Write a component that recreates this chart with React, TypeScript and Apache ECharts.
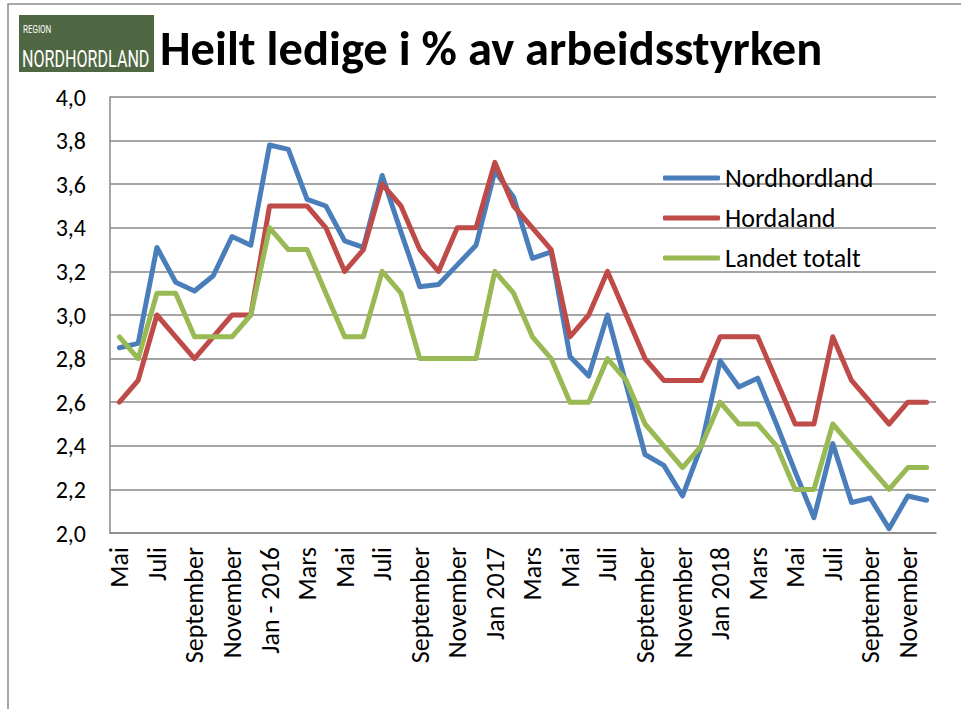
import React, { useEffect, useRef } from "react";
import * as echarts from "echarts";

const months = [
  "Mai", "Juni", "Juli", "August", "September", "Oktober", "November", "Desember",
  "Jan - 2016", "Februar", "Mars", "April", "Mai", "Juni", "Juli", "August", "September", "Oktober", "November", "Desember",
  "Jan 2017", "Februar", "Mars", "April", "Mai", "Juni", "Juli", "August", "September", "Oktober", "November", "Desember",
  "Jan 2018", "Februar", "Mars", "April", "Mai", "Juni", "Juli", "August", "September", "Oktober", "November", "Desember",
];

const nordhordland = [
  2.85, 2.87, 3.31, 3.15, 3.11, 3.18, 3.36, 3.32, 3.78, 3.76,
  3.53, 3.5, 3.34, 3.31, 3.64, 3.38, 3.13, 3.14, 3.23, 3.32,
  3.66, 3.54, 3.26, 3.29, 2.81, 2.72, 3.0, 2.68, 2.36, 2.31,
  2.17, 2.4, 2.79, 2.67, 2.71, 2.5, 2.28, 2.07, 2.41, 2.14,
  2.16, 2.02, 2.17, 2.15,
];

const hordaland = [
  2.6, 2.7, 3.0, 2.9, 2.8, 2.9, 3.0, 3.0, 3.5, 3.5,
  3.5, 3.4, 3.2, 3.3, 3.6, 3.5, 3.3, 3.2, 3.4, 3.4,
  3.7, 3.5, 3.4, 3.3, 2.9, 3.0, 3.2, 3.0, 2.8, 2.7,
  2.7, 2.7, 2.9, 2.9, 2.9, 2.7, 2.5, 2.5, 2.9, 2.7,
  2.6, 2.5, 2.6, 2.6,
];

const landet = [
  2.9, 2.8, 3.1, 3.1, 2.9, 2.9, 2.9, 3.0, 3.4, 3.3,
  3.3, 3.1, 2.9, 2.9, 3.2, 3.1, 2.8, 2.8, 2.8, 2.8,
  3.2, 3.1, 2.9, 2.8, 2.6, 2.6, 2.8, 2.7, 2.5, 2.4,
  2.3, 2.4, 2.6, 2.5, 2.5, 2.4, 2.2, 2.2, 2.5, 2.4,
  2.3, 2.2, 2.3, 2.3,
];

const seriesNames = ["Nordhordland", "Hordaland", "Landet totalt"];
const seriesColors = ["#4A7EBB", "#BE4B48", "#98B954"];
const titleText = "Heilt ledige i % av arbeidsstyrken";

const FONT = "Carlito, Lato, 'Open Sans', sans-serif";

export default function App() {
  const ref = useRef<HTMLDivElement>(null);
  useEffect(() => {
    if (!ref.current) return;
    const chart = echarts.init(ref.current, undefined, { renderer: "svg" });
    const data = [nordhordland, hordaland, landet];
    chart.setOption({
      animation: false,
      backgroundColor: "#ffffff",
      textStyle: { fontFamily: FONT },
      grid: { left: 110, right: 25, top: 97, bottom: 176 },
      legend: {
        orient: "vertical",
        left: 663,
        top: 165,
        padding: 0,
        itemWidth: 57,
        itemHeight: 5,
        itemGap: 14,
        icon: "roundRect",
        data: seriesNames,
        textStyle: { fontSize: 26, color: "#000", fontFamily: FONT },
      },
      xAxis: {
        type: "category",
        data: months,
        boundaryGap: true,
        axisLine: { show: true, lineStyle: { color: "#888", width: 1.5 } },
        axisTick: { show: false },
        axisLabel: {
          interval: 1,
          rotate: 90,
          fontSize: 26,
          color: "#000",
          margin: 14,
          fontFamily: FONT,
        },
        splitLine: { show: false },
      },
      yAxis: {
        type: "value",
        min: 2,
        max: 4,
        interval: 0.2,
        axisLine: { show: true, lineStyle: { color: "#888", width: 1.5 } },
        axisTick: { show: false },
        axisLabel: {
          fontSize: 24,
          color: "#000",
          margin: 24,
          fontFamily: FONT,
          formatter: (v: number) => v.toFixed(1).replace(".", ","),
        },
        splitLine: { show: true, lineStyle: { color: "#888", width: 1.5 } },
      },
      series: seriesNames.map((name, i) => ({
        name,
        type: "line",
        data: data[i],
        symbol: "none",
        smooth: false,
        itemStyle: { color: seriesColors[i] },
        lineStyle: { color: seriesColors[i], width: 5, join: "round", cap: "round" },
      })),
      graphic: [
        {
          type: "rect",
          shape: { x: 8, y: 4, width: 1100, height: 1100 },
          style: { fill: "none", stroke: "#8c8c8c", lineWidth: 1.5 },
          silent: true,
        },
        {
          type: "rect",
          shape: { x: 19, y: 15, width: 135, height: 57 },
          style: { fill: "#4F6843" },
        },
        {
          type: "text",
          x: 23,
          y: 25,
          scaleX: 0.8,
          style: {
            text: "REGION",
            fill: "#ffffff",
            fontSize: 10,
            fontFamily: "Roboto, sans-serif",
          },
        },
        {
          type: "text",
          x: 22,
          y: 48,
          scaleX: 0.7,
          style: {
            text: "NORDHORDLAND",
            fill: "#ffffff",
            fontSize: 23,
            fontFamily: "Roboto, sans-serif",
          },
        },
        {
          type: "text",
          x: 160,
          y: 24,
          style: {
            text: titleText,
            fill: "#000",
            fontSize: 48.5,
            fontWeight: "bold",
            fontFamily: FONT,
          },
        },
      ],
    });
    return () => chart.dispose();
  }, []);
  return (
    <div
      ref={ref}
      style={{ position: "fixed", left: 0, top: 0, width: 961, height: 709 }}
    />
  );
}
